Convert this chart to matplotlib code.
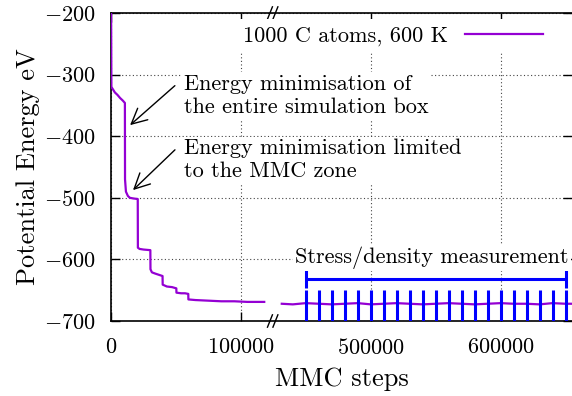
import numpy as np
import matplotlib
matplotlib.use('Agg')
import matplotlib.pyplot as plt
from matplotlib.lines import Line2D

plt.rcParams['font.family'] = 'serif'
plt.rcParams['font.serif'] = ['cmr10']
plt.rcParams['mathtext.fontset'] = 'cm'
plt.rcParams['axes.unicode_minus'] = False

# MMC run, before the axis break
left_steps = [0, 300, 1500, 3000, 5000, 7000, 9000, 10700, 10800, 11500, 13000, 14500,
              17000, 20600, 20700, 22000, 25000, 30300, 30400, 31500, 34000, 39700,
              39800, 43000, 47000, 50300, 50400, 54000, 57000, 59500, 59600, 65000,
              75000, 85000, 95000, 105000, 112000, 118000]
left_energy = [-150, -320, -324, -329, -333, -338, -342, -346, -470, -490, -497, -500,
               -501, -502, -581, -583, -584, -585, -616, -621, -623, -627,
               -641, -644, -645, -647, -654, -655, -655, -656, -665, -666,
               -667, -668, -668, -669, -669, -669]

# MMC run, after the axis break
right_steps = [431500, 440000, 450000, 460000, 470000, 480000, 490000, 500000, 510000,
               520000, 530000, 540000, 550000, 560000, 570000, 580000, 590000, 600000,
               610000, 620000, 630000, 640000, 650000, 655000]
right_energy = [-672, -673, -671, -672, -673, -672, -671, -673, -672, -671, -672, -673,
                -672, -671, -672, -673, -672, -671, -672, -672, -673, -671, -672, -672]

# stress/density measurement points
meas_steps = np.arange(450000, 650001, 10000)
meas_top = -650
bracket_y = -632

xticks = [0, 100000, 500000, 600000]
yticks = [-200, -300, -400, -500, -600, -700]

SHIFT = 300000


def brk(x):
    x = np.asarray(x, dtype=float)
    return np.where(x > 270000, x - SHIFT, x)


fig = plt.figure(figsize=(5.72, 3.96), dpi=100)
ax = fig.add_axes([111 / 572, 75 / 396, 461 / 572, 308 / 396])

purple = '#9400d3'
blue = '#0000ff'

ax.plot(brk(left_steps), left_energy, color=purple, lw=1.6,
        label='1000 C atoms, 600 K', zorder=3)
ax.plot(brk(right_steps), right_energy, color=purple, lw=1.6, zorder=3)

ax.vlines(brk(meas_steps), -700, meas_top, color=blue, lw=2.2, zorder=4)
ax.errorbar([float(brk(550000))], [bracket_y], xerr=[[100000], [100000]], fmt='none',
            ecolor=blue, elinewidth=2.2, capsize=6.5, capthick=2.2, zorder=4)

ax.set_xlim(0, float(brk(655000)))
ax.set_ylim(-700, -200)
ax.set_xticks(brk(xticks))
ax.set_xticklabels(['$%d$' % v for v in xticks])
ax.set_yticks(yticks)
ax.set_yticklabels(['$%d$' % v for v in yticks])
ax.tick_params(axis='both', direction='in', length=6.5, width=1, labelsize=16,
               top=True, right=True)
ax.tick_params(axis='x', pad=12)
ax.tick_params(axis='y', pad=11)
ax.spines['right'].set_visible(False)
for s in ['left', 'bottom', 'top']:
    ax.spines[s].set_linewidth(1.2)

ax.grid(True, linestyle=(0, (1, 2.2)), color='#444444', lw=0.8)
ax.set_axisbelow(True)

ax.set_xlabel('MMC steps', fontsize=19, labelpad=7)
ax.set_ylabel('Potential Energy eV', fontsize=19, labelpad=3)

# axis break marks
tr = ax.get_xaxis_transform()
for xc in [122400, 126600]:
    for yc in [0, 1]:
        ax.add_line(Line2D([xc - 1900, xc + 1900], [yc - 0.02, yc + 0.02], color='black',
                           lw=1, transform=tr, clip_on=False))

box = dict(facecolor='white', edgecolor='none', pad=1.5)
ax.text(56500, -334, 'Energy minimisation of\nthe entire simulation box', fontsize=16,
        ha='left', va='center', linespacing=1.2, bbox=box, zorder=5)
ax.text(56500, -438, 'Energy minimisation limited\nto the MMC zone', fontsize=16,
        ha='left', va='center', linespacing=1.2, bbox=box, zorder=5)
ax.text(float(brk(547000)), -598, 'Stress/density measurement', fontsize=16,
        ha='center', va='center', bbox=box, zorder=5)

arrow = dict(arrowstyle='->,head_length=0.5,head_width=0.25', color='black', lw=1,
             mutation_scale=22)
ax.annotate('', xy=(13090, -385), xytext=(50800, -315), arrowprops=arrow, zorder=5)
ax.annotate('', xy=(15400, -490.6), xytext=(50800, -419), arrowprops=arrow, zorder=5)

leg = ax.legend(loc='center right', bbox_to_anchor=(0.952, 0.925), fontsize=16,
                frameon=True, fancybox=False, framealpha=1, edgecolor='none',
                markerfirst=False, handlelength=3.5, handletextpad=0.8,
                borderpad=0.3, borderaxespad=0)
leg.set_zorder(6)

fig.savefig('out.png', dpi=100)
